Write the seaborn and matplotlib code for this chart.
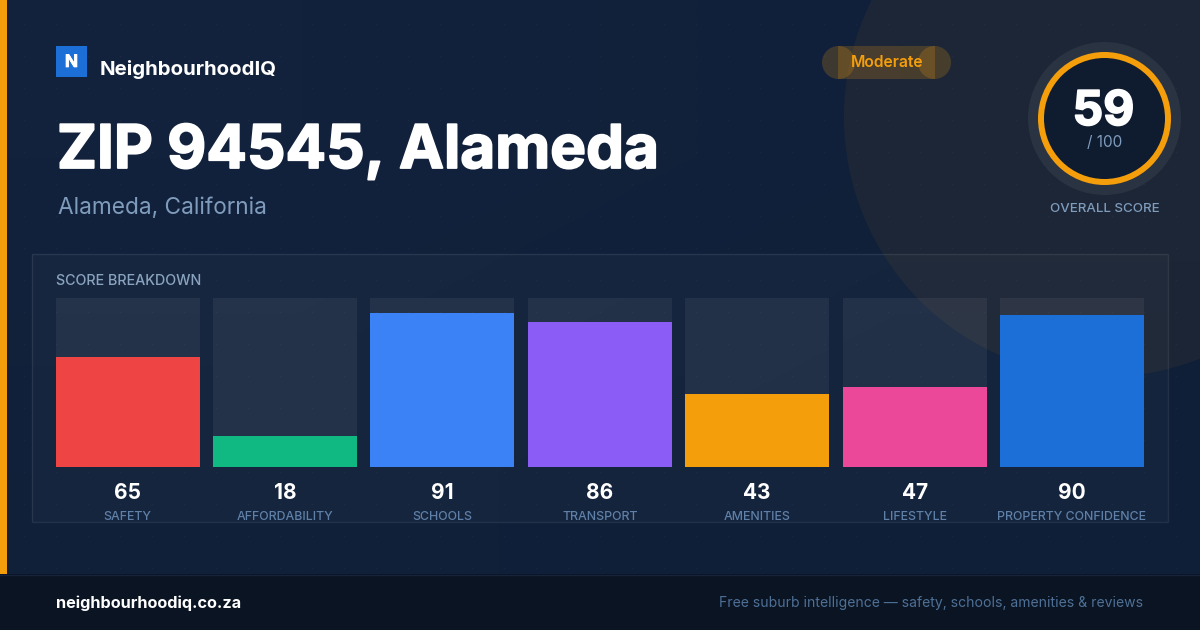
import numpy as np
import pandas as pd
import seaborn as sns
import matplotlib
matplotlib.use("Agg")
import matplotlib.pyplot as plt
import matplotlib.patheffects as pe
from matplotlib.patches import Circle, Rectangle
from matplotlib.colors import LinearSegmentedColormap

categories = ["SAFETY", "AFFORDABILITY", "SCHOOLS", "TRANSPORT", "AMENITIES", "LIFESTYLE", "PROPERTY CONFIDENCE"]
scores = [65, 18, 91, 86, 43, 47, 90]
bar_colors = ["#ef4444", "#10b981", "#3b82f6", "#8b5cf6", "#f59e0b", "#ec4899", "#1d6fd8"]
track_max = [100] * 7
overall_score = 59

sns.set_theme(style="white")
plt.rcParams["font.family"] = ["Inter", "DejaVu Sans"]


def heavy(w):
    return [pe.withStroke(linewidth=w, foreground="white")]


fig = plt.figure(figsize=(12, 6.3), dpi=100, facecolor="#12213b")

# page layer in pixel coordinates
bg = fig.add_axes([0, 0, 1, 1], zorder=0)
bg.set_xlim(0, 1200); bg.set_ylim(630, 0); bg.axis("off")
cm = LinearSegmentedColormap.from_list("bg", ["#13223c", "#0f1f38"])
bg.imshow(np.array([[0.0, 0.5], [0.5, 1.0]]), extent=(0, 1200, 630, 0), cmap=cm, aspect="auto",
          zorder=0, interpolation="bilinear")
bg.add_patch(Circle((1104, 117), 260, fc="#f59e0b", alpha=0.055, ec="none", zorder=1))
xs = np.arange(24, 1200, 32); ys = np.arange(24, 575, 32)
X, Y = np.meshgrid(xs, ys)
bg.scatter(X.ravel(), Y.ravel(), s=1.6, c="#ffffff", alpha=0.035, linewidths=0, zorder=1)
bg.add_patch(Rectangle((32, 254), 1136, 268, fc="#ffffff", alpha=0.025, ec="none", zorder=2))
bg.add_patch(Rectangle((32, 254), 1136, 268, fc="none", ec="#ffffff", alpha=0.08, lw=1, zorder=2))

# bar chart
pitch = 157.4
left, right = 127.6 - pitch / 2, 127.6 + 6 * pitch + pitch / 2
bottom = 466.88
ax = fig.add_axes([left / 1200, 1 - bottom / 630, (right - left) / 1200, 169 / 630], zorder=1)
ax.patch.set_alpha(0)
df = pd.DataFrame({"category": categories, "score": scores, "track": track_max})
sns.barplot(data=df, x="category", y="track", color="#ffffff", alpha=0.058, width=144 / pitch, saturation=1,
            linewidth=0, edgecolor="none", ax=ax, zorder=1)
sns.barplot(data=df, x="category", y="score", hue="category", palette=bar_colors, width=144 / pitch,
            saturation=1, linewidth=0, edgecolor="none", legend=False, ax=ax, zorder=2)
ax.set_xlim(-0.5, 6.5); ax.set_ylim(0, 100)
ax.set_yticks([]); ax.set_xlabel(""); ax.set_ylabel("")
sns.despine(ax=ax, left=True, bottom=True)
ax.set_xticks(range(7), categories)
ax.tick_params(axis="x", length=0, pad=44.5 * 0.72, labelsize=8.88)
for lab in ax.get_xticklabels():
    lab.set_color("#5f80a8"); lab.set_fontweight("medium")
for i, v in enumerate(scores):
    ax.text(i, -(498.6 - bottom) / 169, str(v), transform=ax.get_xaxis_transform(), ha="center", va="baseline",
            color="white", fontsize=15, fontweight="bold")

# overlay layer
top = fig.add_axes([0, 0, 1, 1], zorder=2)
top.set_xlim(0, 1200); top.set_ylim(630, 0); top.axis("off"); top.patch.set_alpha(0)

top.add_patch(Rectangle((0, 0), 7, 574, fc="#f59e0b", ec="none", zorder=3))
top.add_patch(Rectangle((0, 574), 1200, 56, fc="#0a1422", ec="none", zorder=3))
top.plot([0, 1200], [574.5, 574.5], color="#16233a", lw=1, zorder=4)

top.add_patch(Rectangle((56, 46), 31, 31, fc="#1d6fd8", ec="none", zorder=3))
top.text(71.5, 67, "N", color="white", fontsize=12.5, fontweight="bold", ha="center", va="baseline", zorder=5,
         path_effects=heavy(0.5))
top.text(100, 75, "NeighbourhoodIQ", color="white", fontsize=14.7, fontweight="bold", va="baseline", zorder=5)
top.text(57, 168, "ZIP 94545, Alameda", color="white", fontsize=43.35, fontweight="bold", va="baseline", zorder=5,
         path_effects=heavy(1.3))
top.text(58, 214, "Alameda, California", color="#7f9cbc", fontsize=16.35, va="baseline", zorder=5)
top.text(56, 285, "SCORE BREAKDOWN", color="#8aa4c0", fontsize=10.3, fontweight="medium", va="baseline", zorder=5)

# pill
for p in [Rectangle((838, 46), 97, 33, fc="#f59e0b", alpha=0.2, ec="none", zorder=3),
          Circle((838.5, 62.5), 16.5, fc="#f59e0b", alpha=0.2, ec="none", zorder=3),
          Circle((934.5, 62.5), 16.5, fc="#f59e0b", alpha=0.2, ec="none", zorder=3)]:
    top.add_patch(p)
top.text(887, 67, "Moderate", color="#f59e0b", fontsize=11.3, fontweight="semibold", ha="center", va="baseline", zorder=5)

# score ring
cx, cy = 1104.5, 118.5
top.add_patch(Circle((cx, cy), 76.5, fc="#2a3342", ec="none", zorder=3))
top.add_patch(Circle((cx, cy), 66.5, fc="#f59e0b", ec="none", zorder=3))
top.add_patch(Circle((cx, cy), 60.5, fc="#0f1b2e", ec="none", zorder=3))
top.text(cx - 1, 125, str(overall_score), color="white", fontsize=34.5, fontweight="bold", ha="center", va="baseline",
         zorder=5, path_effects=heavy(1.2))
top.text(cx, 147, "/ 100", color="#7f9cbc", fontsize=11, ha="center", va="baseline", zorder=5)
top.text(cx, 212.5, "OVERALL SCORE", color="#7f9cbc", fontsize=9.6, fontweight="medium", ha="center", va="baseline", zorder=5)

# footer
top.text(56, 608, "neighbourhoodiq.co.za", color="white", fontsize=11.7, fontweight="bold", va="baseline", zorder=5)
top.text(1143.5, 606.5, "Free suburb intelligence — safety, schools, amenities & reviews", color="#4f7096",
         fontsize=10.07, ha="right", va="baseline", zorder=5)

fig.savefig("out.png", dpi=100, facecolor=fig.get_facecolor())
